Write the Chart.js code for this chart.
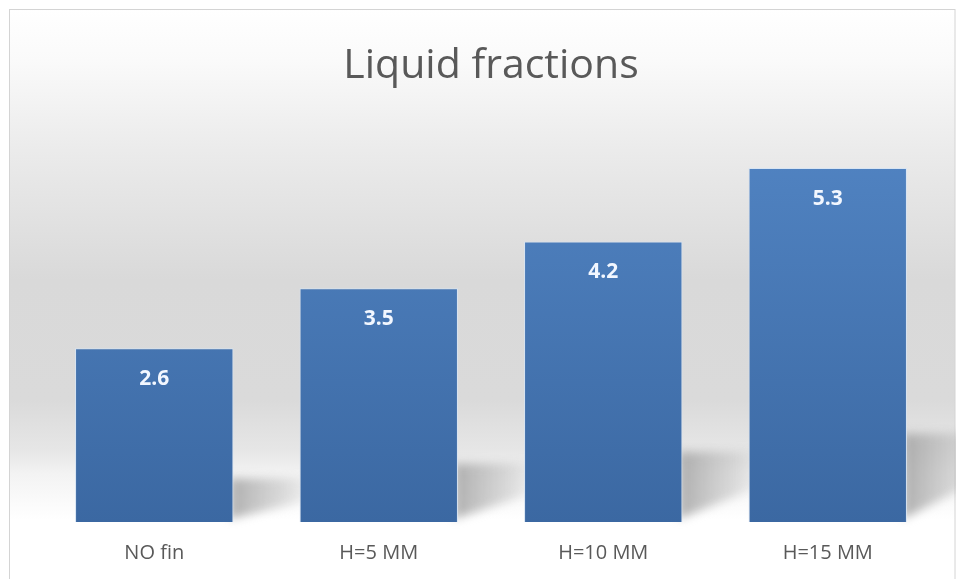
<!DOCTYPE html>
<html>
<head>
<meta charset="utf-8">
<title>Liquid fractions</title>
<script src="https://cdn.jsdelivr.net/npm/chart.js@4.4.1/dist/chart.umd.min.js"></script>
<style>
  html, body { margin: 0; padding: 0; background: #ffffff; }
  #wrap { width: 956px; height: 579px; }
</style>
</head>
<body>
<div id="wrap"><canvas id="chart" width="956" height="579"></canvas></div>
<script>
// Fin heights compared and the liquid fraction measured for each
const categories = ['NO fin', 'H=5 MM', 'H=10 MM', 'H=15 MM'];
const liquidFraction = [2.6, 3.5, 4.2, 5.3];
const chartTitle = 'Liquid fractions';

const FONT = "'Open Sans', 'Liberation Sans', sans-serif";
const TEXT_GREY = '#595959';

// Framed panel: grey wall fading into a white floor
const backdrop = {
  id: 'backdrop',
  beforeDraw(chart) {
    const { ctx, width, height } = chart;
    ctx.save();
    ctx.fillStyle = '#ffffff';
    ctx.fillRect(0, 0, width, height);
    const top = 9, left = 9;
    const g = ctx.createLinearGradient(0, 0, 0, height);
    const stop = (y, c) => g.addColorStop(y / height, c);
    stop(9, '#ffffff');
    stop(60, '#fafafa');
    stop(150, '#ebebeb');
    stop(280, '#d9d9d9');
    stop(400, '#dadada');
    stop(450, '#e6e6e6');
    stop(474, '#f3f3f3');
    stop(520, '#ffffff');
    stop(579, '#ffffff');
    ctx.fillStyle = g;
    ctx.fillRect(left, top, width - left - 1, height - top);
    ctx.strokeStyle = '#d4d4d4';
    ctx.lineWidth = 1;
    ctx.strokeRect(left + 0.5, top + 0.5, width - left - 1.5, height - top + 5);
    ctx.restore();
  }
};

// Blurred floor shadow trailing behind each bar
const barShadows = {
  id: 'barShadows',
  beforeDatasetsDraw(chart) {
    const { ctx } = chart;
    const meta = chart.getDatasetMeta(0);
    ctx.save();
    ctx.filter = 'blur(5px)';
    meta.data.forEach((bar) => {
      const right = bar.x + bar.width / 2;
      const bottom = bar.base;
      const h = bottom - bar.y;
      const sh = h * 0.25;
      const sw = 85;
      const g = ctx.createLinearGradient(right, 0, right + sw, 0);
      g.addColorStop(0, 'rgba(160,160,160,0.8)');
      g.addColorStop(0.6, 'rgba(175,175,175,0.4)');
      g.addColorStop(1, 'rgba(190,190,190,0.0)');
      ctx.fillStyle = g;
      ctx.beginPath();
      ctx.moveTo(right - 4, bottom - 3);
      ctx.lineTo(right - 4, bottom - sh);
      ctx.lineTo(right + sw, bottom - sh);
      ctx.lineTo(right + sw, bottom - sh * 0.55);
      ctx.closePath();
      ctx.fill();
    });
    ctx.restore();
  }
};

// Value printed in white near the top of each bar
const valueLabels = {
  id: 'valueLabels',
  afterDatasetsDraw(chart) {
    const { ctx } = chart;
    const meta = chart.getDatasetMeta(0);
    const values = chart.data.datasets[0].data;
    ctx.save();
    ctx.fillStyle = '#f2f7ff';
    ctx.font = "bold 21px " + FONT;
    ctx.textAlign = 'center';
    ctx.textBaseline = 'middle';
    meta.data.forEach((bar, i) => {
      ctx.fillText(values[i].toFixed(1), bar.x, bar.y + 31);
    });
    ctx.restore();
  }
};

function barFill(context) {
  const chart = context.chart;
  const area = chart.chartArea;
  if (!area) return '#4a7bb8';
  const g = chart.ctx.createLinearGradient(0, area.top, 0, area.bottom);
  g.addColorStop(0, '#5285c4');
  g.addColorStop(1, '#3b68a2');
  return g;
}

new Chart(document.getElementById('chart'), {
  type: 'bar',
  data: {
    labels: categories,
    datasets: [{
      label: chartTitle,
      data: liquidFraction,
      backgroundColor: barFill,
      borderColor: 'rgba(214,228,243,0.95)',
      borderWidth: 1,
      barPercentage: 0.85,
      categoryPercentage: 0.83
    }]
  },
  options: {
    responsive: false,
    animation: false,
    devicePixelRatio: 1,
    layout: { padding: { left: 42, right: 16, top: 0, bottom: -5 } },
    plugins: {
      legend: { display: false },
      tooltip: { enabled: false },
      title: {
        display: true,
        text: chartTitle,
        color: TEXT_GREY,
        font: { family: FONT, size: 41, weight: 'normal', lineHeight: 1.2 },
        padding: { top: 42, bottom: 30 }
      }
    },
    scales: {
      x: {
        grid: { display: false, drawTicks: false },
        border: { display: false },
        ticks: {
          color: TEXT_GREY,
          padding: 19,
          font: { family: FONT, size: 20 }
        }
      },
      y: {
        display: false,
        min: 0,
        max: 6
      }
    }
  },
  plugins: [backdrop, barShadows, valueLabels]
});
</script>
</body>
</html>
